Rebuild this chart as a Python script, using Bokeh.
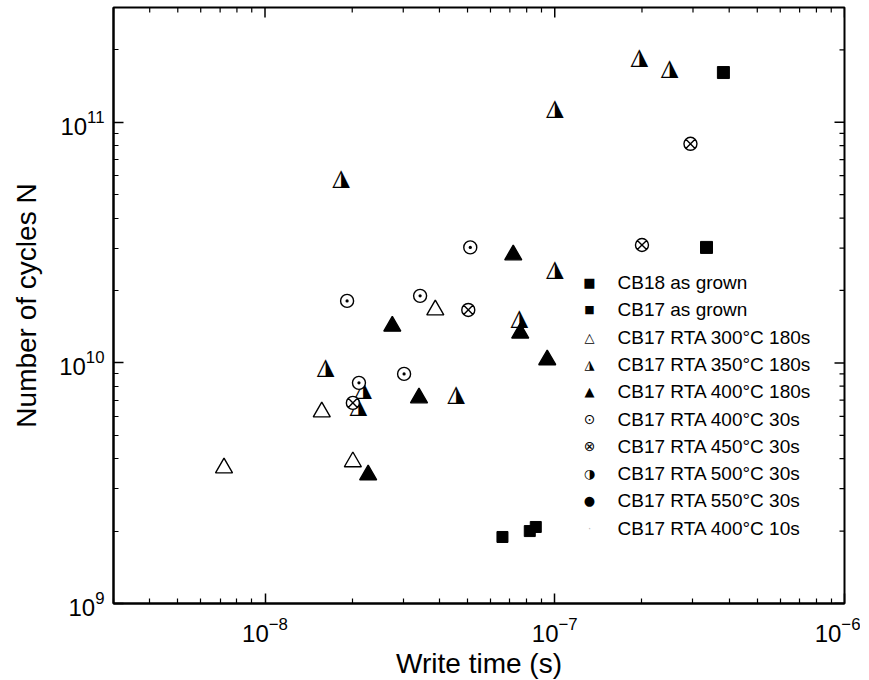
import math
from bokeh.plotting import figure
from bokeh.models import FixedTicker, Label, Range1d
from bokeh.core.properties import value
from bokeh.embed import file_html
from bokeh.resources import INLINE

# ---------------- data ----------------
x_major = [1e-8, 1e-7, 1e-6]
y_major = [1e9, 1e10, 1e11]

cb18_x = [3.82e-7, 3.34e-7]
cb18_y = [1.61e11, 3.02e10]

cb17_x = [8.2e-8, 8.6e-8, 6.6e-8]
cb17_y = [2.0e9, 2.08e9, 1.89e9]

rta300_180_x = [3.87e-8, 1.57e-8, 7.22e-9, 2.01e-8]
rta300_180_y = [1.66e10, 6.25e9, 3.66e9, 3.88e9]

rta350_180_x = [1.96e-7, 2.49e-7, 1.0e-7, 1.83e-8, 7.54e-8, 1.62e-8, 2.18e-8, 4.57e-8, 2.10e-8, 1.0e-7]
rta350_180_y = [1.89e11, 1.70e11, 1.16e11, 5.93e10, 1.55e10, 9.72e9, 7.87e9, 7.50e9, 6.69e9, 2.48e10]

rta400_180_x = [7.19e-8, 7.60e-8, 9.42e-8, 3.40e-8, 2.27e-8, 2.75e-8]
rta400_180_y = [2.81e10, 1.33e10, 1.03e10, 7.15e9, 3.42e9, 1.42e10]

rta400_30_x = [5.11e-8, 1.92e-8, 3.43e-8, 2.11e-8, 3.02e-8]
rta400_30_y = [3.02e10, 1.81e10, 1.90e10, 8.26e9, 9.0e9]

rta450_30_x = [5.03e-8, 2.01e-8, 2.0e-7, 2.94e-7]
rta450_30_y = [1.66e10, 6.82e9, 3.09e10, 8.14e10]

legend_labels = ["CB18 as grown", "CB17 as grown", "CB17 RTA 300°C 180s",
                 "CB17 RTA 350°C 180s", "CB17 RTA 400°C 180s", "CB17 RTA 400°C 30s",
                 "CB17 RTA 450°C 30s", "CB17 RTA 500°C 30s", "CB17 RTA 550°C 30s",
                 "CB17 RTA 400°C 10s"]
legend_symbols = ["■", "■", "△", "◮", "▲", "⊙", "⊗", "◑", "●", "·"]
legend_sym_sizes = ["13px", "11px", "13px", "13px", "13px", "14px", "14px", "13px", "13px", "10px"]
legend_sym_colors = ["black"] * 9 + ["#bbbbbb"]

FONT = "Liberation Sans"
SYM_FONT = "DejaVu Sans"
X_START, X_END = 3e-9, 1e-6
Y_START, Y_END = 1e9, 3e11

x_minor = [m * 10.0 ** e for e in range(-9, -6) for m in range(2, 10)]
y_minor = [m * 10.0 ** e for e in range(9, 12) for m in range(2, 10)]
x_minor = [v for v in x_minor if X_START <= v <= X_END]
y_minor = [v for v in y_minor if Y_START <= v <= Y_END]

p = figure(frame_width=731, frame_height=596,
           x_axis_type="log", y_axis_type="log",
           x_range=Range1d(X_START, X_END), y_range=Range1d(Y_START, Y_END),
           output_backend="svg", toolbar_location=None,
           min_border_left=113, min_border_right=16, min_border_top=7, min_border_bottom=72,
           background_fill_color="white", border_fill_color="white")
p.grid.visible = False
p.outline_line_color = "black"
p.outline_line_width = 2

xb = p.xaxis[0]
yl = p.yaxis[0]
xb.ticker = FixedTicker(ticks=x_major, minor_ticks=x_minor)
yl.ticker = FixedTicker(ticks=y_major, minor_ticks=y_minor)

for ax in [xb, yl]:
    ax.major_tick_in = 10
    ax.major_tick_out = 0
    ax.minor_tick_in = 5
    ax.minor_tick_out = 0
    ax.major_tick_line_width = 1.5
    ax.minor_tick_line_width = 1.2
    ax.major_tick_line_color = "black"
    ax.minor_tick_line_color = "black"
    ax.axis_line_width = 2
    ax.axis_line_color = "black"
    ax.major_label_text_font = FONT
    ax.major_label_text_color = "black"
    ax.major_label_text_font_size = "24px"
    ax.axis_label_text_font = FONT
    ax.axis_label_text_font_style = "normal"
    ax.axis_label_text_color = "black"
    ax.axis_label_text_font_size = "28px"

xb.major_label_standoff = 13
yl.major_label_standoff = 9
xb.axis_label = "Write time (s)"
yl.axis_label = "Number of cycles N"
xb.axis_label_standoff = 3
yl.axis_label_standoff = 14

# mirrored ticks on the top and right edges (rays of fixed screen length)
p.ray(x=x_major, y=[Y_END] * len(x_major), length=10, length_units="screen",
      angle=-math.pi / 2, line_color="black", line_width=1.5)
p.ray(x=x_minor, y=[Y_END] * len(x_minor), length=5, length_units="screen",
      angle=-math.pi / 2, line_color="black", line_width=1.2)
p.ray(x=[X_END] * len(y_major), y=y_major, length=10, length_units="screen",
      angle=math.pi, line_color="black", line_width=1.5)
p.ray(x=[X_END] * len(y_minor), y=y_minor, length=5, length_units="screen",
      angle=math.pi, line_color="black", line_width=1.2)

# ---------------- markers ----------------
p.scatter(rta300_180_x, rta300_180_y, marker="triangle", size=17,
          fill_color="white", line_color="black", line_width=1.4)
p.scatter(rta400_180_x, rta400_180_y, marker="triangle", size=17,
          fill_color="black", line_color="black", line_width=1.4)
p.text(rta350_180_x, rta350_180_y, text=["◮"] * len(rta350_180_x),
       text_font=value(SYM_FONT), text_font_size="23px",
       text_align="center", text_baseline="middle", text_color="black")
p.scatter(cb18_x, cb18_y, marker="square", size=12,
          fill_color="black", line_color="black")
p.scatter(cb17_x, cb17_y, marker="square", size=11,
          fill_color="black", line_color="black")
p.scatter(rta400_30_x, rta400_30_y, marker="circle_dot", size=13,
          fill_color="white", line_color="black", line_width=1.4)
p.scatter(rta450_30_x, rta450_30_y, marker="circle_x", size=13,
          fill_color="white", line_color="black", line_width=1.4)

# ---------------- legend (frame-relative screen units) ----------------
for i, (lab, sym, ss, sc) in enumerate(zip(legend_labels, legend_symbols,
                                           legend_sym_sizes, legend_sym_colors)):
    yy = 596 - (275 + 27.3 * i)
    p.add_layout(Label(x=476, y=yy, x_units="screen", y_units="screen", text=sym,
                       text_font=SYM_FONT, text_font_size=ss, text_color=sc,
                       text_align="center", text_baseline="middle"))
    p.add_layout(Label(x=504, y=yy, x_units="screen", y_units="screen", text=lab,
                       text_font=FONT, text_font_size="19px", text_color="black",
                       text_align="left", text_baseline="middle"))

open("out.html", "w").write(file_html(p, INLINE))
